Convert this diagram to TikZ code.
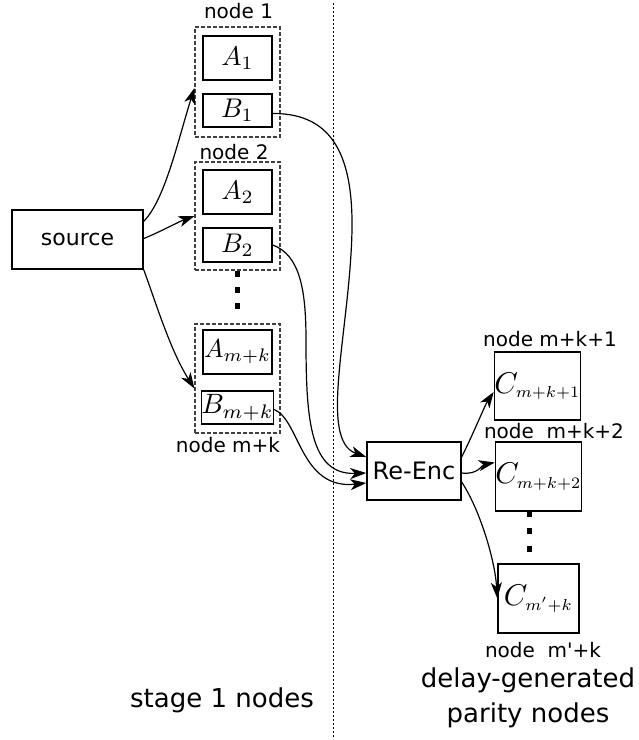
\documentclass[tikz,border=0pt]{standalone}
\usepackage{graphicx}
\usepackage[no-math]{fontspec}
\newfontfamily\lblfont{DejaVu Sans}
\usetikzlibrary{arrows.meta,calc}

% scaled formula
\newcommand\mth[2]{\scalebox{#1}{$#2$}}
% subscripted C with a smaller index
\newcommand\cpar[1]{\scalebox{3.0}{$C_{\scalebox{0.76}{$\scriptstyle #1$}}$}}

\begin{document}
\begin{tikzpicture}[x=1pt,y=-1pt,
  box/.style={draw,line width=1.4pt,inner sep=0pt},
  group/.style={draw=black!75,dash pattern=on 4pt off 2pt,line width=1.1pt,inner sep=0pt},
  lbl/.style={font=\lblfont\fontsize{20}{20}\selectfont,inner sep=0pt,anchor=base},
  big/.style={font=\lblfont\fontsize{26}{26}\selectfont,inner sep=0pt,anchor=base},
  link/.style={line width=1.2pt,-{Stealth[length=16pt,width=11pt,inset=4.5pt]}},
  sq/.style={fill,inner sep=0pt,minimum width=5pt,minimum height=6pt},
  abox/.style={box,minimum width=69pt,minimum height=44pt},
  bbox/.style={box,minimum width=69pt,minimum height=33pt},
  cbox/.style={box,minimum width=81pt,minimum height=69pt}
]
\useasboundingbox (0,0) rectangle (639,740);

% divider between the two stages
\coordinate (divtop) at (333,3);
\coordinate (divbot) at (333,737);
\draw[line width=1pt,dash pattern=on 2pt off 2pt] (divtop) -- (divbot);

% source
\node[box,minimum width=131pt,minimum height=59pt,font=\lblfont\fontsize{22}{22}\selectfont] (src) at (77.5,239.5) {source};

% stage 1 storage nodes
\node[group,minimum width=85pt,minimum height=110pt] (g1) at (237.5,82) {};
\node[abox] (A1) at (237.5,58) {\mth{2.7}{A_1}};
\node[bbox] (B1) at (237.5,110.5) {\mth{2.7}{B_1}};
\node[lbl] (l1) at (238.5,18) {node 1};

\node[group,minimum width=85pt,minimum height=108pt] (g2) at (237.5,216) {};
\node[abox] (A2) at (237.5,192) {\mth{2.7}{A_2}};
\node[bbox,minimum height=34pt] (B2) at (237.5,245) {\mth{2.7}{B_2}};
\node[lbl] (l2) at (234,159) {node 2};

\node[sq] (d1) at (237,274) {};
\node[sq] (d2) at (237,290) {};
\node[sq] (d3) at (237,306) {};

\node[group,minimum width=85pt,minimum height=109pt] (g3) at (237.5,378.5) {};
\node[abox] (A3) at (237.5,352) {\mth{2.6}{A_{m+k}}};
\node[bbox] (B3) at (237.5,407.5) {\mth{2.8}{B_{m+k}}};
\node[lbl] (l3) at (228,452) {node m+k};

% re-encoder
\node[box,minimum width=94pt,minimum height=58pt,font=\lblfont\fontsize{24}{24}\selectfont] (re) at (414,471) {Re-Enc};

% delay-generated parity nodes
\node[cbox,minimum width=83pt,minimum height=68pt] (C1) at (537.5,386) {\cpar{m+k+1}};
\node[lbl] (l4) at (550,346) {node m+k+1};
\node[cbox] (C2) at (538.5,476.5) {\cpar{m+k+2}};
\node[lbl] (l5) at (554,438) {node\ \ m+k+2};
\node[sq] (e1) at (529,514) {};
\node[sq] (e2) at (529,531) {};
\node[sq] (e3) at (529,549) {};
\node[cbox] (C3) at (538.5,598.5) {\cpar{m'+k}};
\node[lbl] (l6) at (543,657) {node\ \ m'+k};

% stage captions
\node[big] (s1) at (222,707) {stage 1 nodes};
\node[big] (s2a) at (528,687) {delay-generated};
\node[big] (s2b) at (528,722) {parity nodes};

% source to storage nodes
\draw[link] ([yshift=-12pt]src.north east) .. controls (165,200) and (178,140) .. ([yshift=-6pt]g1.west);
\draw[link] ([yshift=1pt]src.east) .. controls (160,232) and (178,222) .. (g2.west);
\draw[link] (src.south east) .. controls (155,300) and (170,350) .. ([yshift=-10pt]g3.west);

% B parts to the re-encoder
\coordinate (b1mid) at (352,230);
\coordinate (b2mid) at (306,340);
\draw[link] ([yshift=-3pt]B1.east) .. controls (335,113) and (353,160) .. (b1mid)
  .. controls (350,330) and (318,440) .. ([yshift=14pt]re.west);
\draw[link] (B2.east) .. controls (300,255) and (306,290) .. (b2mid)
  .. controls (306,420) and (310,475) .. ([yshift=-2pt]re.west);
\draw[link] ([yshift=-2pt]B3.east) .. controls (300,420) and (300,490) .. ([yshift=-12pt]re.west);

% re-encoder to parity nodes
\draw[link] ([yshift=14pt]re.east) .. controls (475,430) and (485,405) .. ([yshift=-6pt]C1.west);
\draw[link] ([yshift=-2pt]re.east) .. controls (478,475) and (482,465) .. ([yshift=14pt]C2.west);
\draw[link] ([yshift=-11pt]re.east) .. controls (480,510) and (495,560) .. (C3.west);
\end{tikzpicture}
\end{document}
